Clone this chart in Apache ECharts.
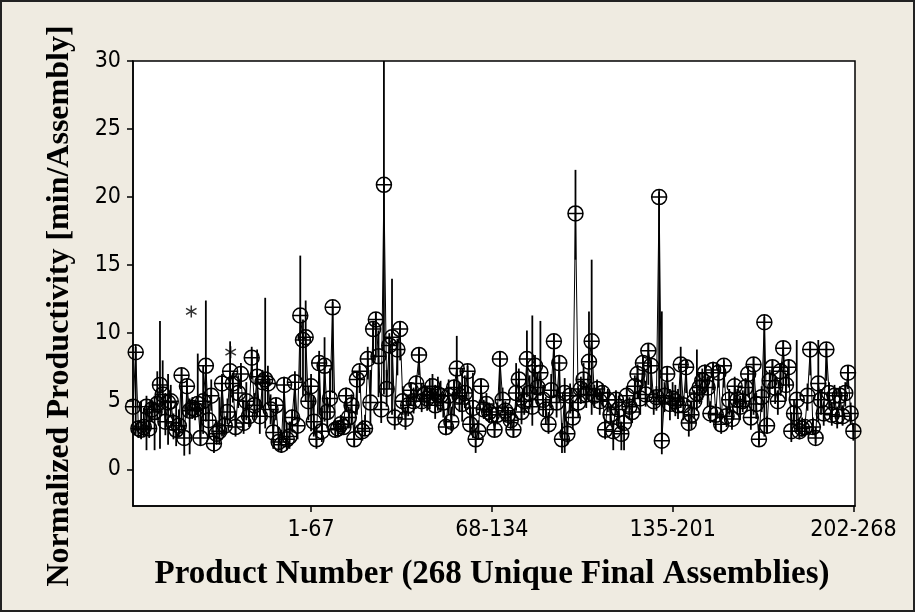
<!DOCTYPE html>
<html><head><meta charset="utf-8">
<script src="https://cdn.jsdelivr.net/npm/echarts@6/dist/echarts.min.js"></script>
<style>
html,body{margin:0;padding:0;background:#EFEBE1;}
#chart{position:absolute;left:0;top:0;width:915px;height:612px;}
#frame{position:absolute;left:0;top:0;width:915px;height:612px;box-sizing:border-box;border:2px solid #222;pointer-events:none;}
</style></head>
<body><div id="chart"></div><div id="frame"></div>
<script>
// Tick labels (groups of product numbers)
const tickPositions = [67, 134, 201, 268];
const tickLabels = ['1-67', '68-134', '135-201', '202-268'];
const yTicks = [0, 5, 10, 15, 20, 25, 30];

// Mean normalized productivity for products 1..268
const means = [
  4.6, 8.6, 3.0, 2.9, 3.1, 4.6, 3.0, 4.4, 4.2, 4.8,
  6.2, 5.5, 3.5, 4.9, 5.0, 3.4, 2.9, 3.2, 6.9, 2.3,
  6.1, 4.3, 4.5, 4.4, 4.8, 2.3, 5.0, 7.6, 3.6, 5.4,
  1.9, 2.6, 2.8, 6.3, 3.2, 4.2, 7.2, 6.3, 3.1, 5.6,
  7.0, 3.4, 5.0, 3.9, 8.2, 4.7, 6.8, 3.9, 6.4, 6.6,
  6.3, 4.4, 2.7, 4.7, 2.0, 1.8, 6.2, 2.2, 2.4, 3.8,
  6.4, 3.2, 11.3, 9.5, 9.7, 5.0, 6.1, 3.5, 2.2, 7.8,
  2.8, 7.6, 4.2, 5.2, 11.9, 2.9, 3.0, 3.3, 3.1, 5.4,
  3.8, 4.7, 2.2, 6.6, 7.2, 2.8, 3.0, 8.1, 4.9, 10.3,
  11.0, 8.3, 4.4, 20.9, 5.9, 9.1, 9.7, 3.8, 8.8, 10.3,
  5.0, 3.7, 4.7, 5.8, 5.0, 6.3, 8.4, 5.0, 5.5, 5.2,
  5.4, 6.1, 4.7, 5.5, 5.4, 4.9, 3.1, 5.4, 3.5, 6.0,
  7.4, 5.4, 4.8, 5.6, 7.2, 3.3, 4.5, 2.2, 2.8, 6.1,
  4.4, 4.8, 4.2, 4.0, 2.9, 4.0, 8.1, 5.1, 4.3, 4.0,
  3.6, 2.9, 5.6, 6.6, 4.2, 5.0, 8.1, 5.6, 4.6, 7.6,
  6.0, 7.1, 5.1, 4.4, 3.3, 5.8, 9.4, 4.9, 7.8, 2.2,
  5.6, 2.6, 5.4, 3.8, 18.8, 4.9, 5.9, 6.6, 5.5, 7.9,
  9.4, 5.4, 5.9, 5.0, 5.6, 2.9, 5.1, 4.0, 2.8, 5.1,
  4.4, 2.6, 3.4, 5.4, 4.6, 4.2, 6.1, 7.0, 5.2, 7.8,
  5.5, 8.7, 7.6, 5.0, 5.3, 20.0, 2.1, 5.4, 7.0, 4.8,
  5.2, 5.0, 4.7, 7.7, 4.7, 7.5, 3.4, 4.0, 5.0, 5.6,
  6.0, 6.5, 7.1, 6.0, 4.1, 7.3, 4.0, 7.1, 3.3, 7.6,
  3.9, 5.1, 3.7, 6.1, 5.1, 4.6, 5.0, 6.0, 7.0, 3.8,
  7.7, 4.8, 2.2, 5.3, 10.8, 3.2, 6.5, 7.5, 6.0, 5.0,
  7.2, 8.9, 6.2, 7.5, 2.8, 4.1, 5.1, 2.8, 3.0, 3.1,
  5.4, 8.8, 3.1, 2.3, 6.3, 5.1, 4.1, 8.8, 5.6, 4.0,
  5.4, 3.9, 5.4, 3.9, 5.6, 7.1, 4.1, 2.8
];

// Lower ends of the interval bars
const lows = [
  3.8, 2.6, 2.3, 2.2, 2.4, 1.4, 2.3, 3.5, 1.4, 3.6,
  1.5, 4.6, 2.5, 1.8, 3.9, 2.2, 1.7, 2.4, 2.9, 1.0,
  3.8, 1.1, 3.7, 3.6, 3.9, 1.8, 2.6, 3.5, 2.2, 4.3,
  1.2, 1.8, 1.8, 2.4, 2.5, 3.3, 3.4, 4.9, 2.4, 4.5,
  5.9, 2.6, 3.6, 3.1, 6.6, 3.6, 3.8, 2.6, 4.5, 3.0,
  4.7, 3.3, 1.5, 3.6, 1.3, 1.2, 2.2, 1.4, 1.5, 2.7,
  3.6, 2.2, 6.5, 5.4, 5.0, 3.6, 2.8, 2.4, 1.5, 4.0,
  2.0, 3.5, 3.0, 3.7, 5.6, 2.6, 2.4, 2.7, 2.6, 4.2,
  3.0, 3.3, 1.7, 4.0, 5.6, 2.1, 2.5, 6.6, 3.2, 7.8,
  8.2, 5.3, 3.4, 5.5, 4.6, 5.9, 4.0, 2.9, 6.9, 8.0,
  4.0, 2.9, 3.9, 4.7, 4.1, 4.9, 6.9, 4.2, 4.6, 4.3,
  4.4, 5.0, 3.7, 4.3, 4.2, 3.8, 2.5, 4.0, 2.8, 3.9,
  5.2, 4.2, 3.5, 4.5, 5.6, 2.6, 2.3, 1.2, 2.2, 4.9,
  3.7, 3.9, 3.4, 3.5, 2.4, 3.3, 5.0, 4.1, 3.5, 3.2,
  2.9, 2.4, 4.3, 4.9, 3.3, 4.0, 5.3, 4.4, 3.2, 5.5,
  4.6, 5.4, 3.9, 3.3, 2.6, 4.5, 5.3, 3.8, 4.9, 1.2,
  1.2, 1.8, 4.1, 2.9, 15.4, 3.8, 4.8, 5.4, 4.5, 5.0,
  4.0, 4.5, 5.1, 4.0, 4.6, 2.2, 4.2, 3.3, 1.4, 4.0,
  3.0, 1.4, 1.4, 4.4, 3.6, 3.4, 5.0, 5.2, 4.0, 6.1,
  4.6, 6.2, 5.6, 4.0, 4.3, 4.8, 1.1, 4.2, 5.6, 3.6,
  4.3, 3.9, 3.7, 4.5, 3.6, 5.6, 2.4, 2.9, 3.7, 4.3,
  4.8, 5.1, 5.6, 4.6, 3.4, 5.8, 2.9, 6.0, 2.6, 6.0,
  3.1, 4.0, 2.9, 4.8, 4.0, 3.6, 4.2, 4.5, 5.4, 2.9,
  4.0, 3.7, 1.8, 4.2, 2.4, 2.6, 5.3, 5.9, 4.8, 4.0,
  5.4, 6.1, 5.0, 6.0, 2.0, 3.2, 2.8, 2.2, 2.4, 2.5,
  4.3, 6.9, 2.6, 1.9, 3.5, 4.0, 3.2, 6.5, 4.4, 3.2,
  4.4, 3.0, 4.5, 3.2, 4.6, 5.9, 3.3, 2.1
];

// Upper ends of the interval bars
const highs = [
  5.3, 9.0, 3.6, 5.0, 4.5, 5.4, 4.9, 5.1, 5.4, 7.2,
  10.9, 8.0, 5.6, 7.0, 6.2, 4.1, 5.0, 4.4, 7.4, 3.2,
  6.7, 5.2, 5.3, 5.1, 8.5, 4.6, 7.6, 12.4, 4.8, 6.6,
  2.7, 3.6, 5.3, 7.0, 3.9, 5.2, 9.4, 7.1, 4.3, 6.9,
  7.8, 5.1, 6.4, 4.9, 9.0, 5.6, 8.8, 5.1, 7.3, 12.6,
  7.6, 5.5, 4.4, 5.2, 3.1, 2.9, 6.8, 3.4, 3.5, 4.4,
  7.2, 4.0, 15.7, 11.0, 12.4, 6.1, 7.0, 5.4, 3.1, 8.7,
  4.5, 9.7, 5.3, 7.4, 12.3, 3.6, 3.6, 4.0, 3.8, 6.0,
  4.6, 5.5, 3.3, 7.2, 7.6, 3.6, 4.0, 9.0, 7.3, 10.8,
  11.5, 10.2, 5.6, 30.0, 7.3, 10.0, 14.0, 4.5, 9.6, 10.8,
  6.1, 4.6, 5.5, 6.4, 6.0, 6.9, 8.9, 6.3, 6.2, 6.0,
  6.7, 7.0, 6.2, 6.8, 6.5, 5.7, 3.9, 6.6, 4.6, 6.6,
  9.8, 6.4, 7.4, 6.9, 7.6, 4.7, 7.1, 3.0, 3.6, 6.6,
  5.1, 5.6, 4.9, 4.6, 3.5, 4.9, 8.6, 6.0, 5.0, 4.6,
  4.3, 3.6, 7.8, 7.4, 5.5, 6.1, 10.2, 6.9, 11.3, 8.4,
  7.1, 10.9, 6.2, 5.3, 4.2, 7.0, 9.9, 5.8, 8.4, 3.4,
  6.7, 3.5, 6.3, 5.1, 22.0, 6.1, 6.8, 7.8, 6.3, 11.6,
  15.4, 6.2, 6.6, 5.9, 6.3, 3.6, 5.9, 4.8, 3.6, 5.8,
  5.4, 3.5, 4.3, 6.1, 5.3, 5.0, 6.9, 7.7, 6.2, 8.3,
  6.5, 9.2, 8.0, 5.8, 6.1, 20.4, 11.6, 6.4, 7.5, 5.9,
  6.4, 6.2, 5.9, 9.0, 5.4, 8.0, 4.2, 5.0, 5.8, 8.8,
  7.1, 7.4, 7.7, 6.8, 5.0, 7.9, 4.8, 7.6, 4.1, 8.0,
  4.6, 5.9, 4.3, 6.8, 5.9, 5.4, 5.8, 6.7, 7.6, 4.6,
  8.2, 5.6, 3.3, 6.1, 11.2, 3.9, 7.3, 8.0, 6.8, 5.8,
  7.8, 9.4, 7.0, 8.1, 4.2, 5.1, 9.5, 3.7, 3.8, 3.7,
  6.3, 9.3, 3.8, 3.1, 9.5, 5.9, 5.0, 9.2, 6.4, 4.9,
  6.2, 4.6, 6.1, 4.7, 6.4, 7.6, 4.9, 3.4
];

// Single-observation points shown as asterisks
const starProducts = [22.6, 37.2];
const starValues = [11.6, 8.6];

const meanData = means.map((v, i) => [i + 1, v]);
const intervalData = lows.map((lo, i) => [i + 1, lo, highs[i]]);
const starData = starProducts.map((p, i) => [p, starValues[i]]);

const chart = echarts.init(document.getElementById('chart'), null, {renderer: 'canvas'});
const tickFont = '"DejaVu Sans Condensed", "Liberation Sans Narrow", sans-serif';
const yTitleFont = 'bold 32px "Liberation Serif", "Times New Roman", serif';
const xTitleFont = 'bold 33px "Liberation Serif", "Times New Roman", serif';

chart.setOption({
  animation: false,
  backgroundColor: '#EFEBE1',
  grid: {left: 133, right: 60, top: 61, bottom: 106, show: true,
         backgroundColor: '#ffffff', borderColor: '#000', borderWidth: 1.5},
  xAxis: {
    type: 'value', min: 1, max: 268.6,
    axisLine: {show: true, onZero: false, lineStyle: {color: '#000', width: 1.5}},
    axisTick: {show: true, customValues: tickPositions, length: 6, lineStyle: {color: '#000', width: 1.5}},
    axisLabel: {customValues: tickPositions, color: '#000', fontSize: 23, fontFamily: tickFont, margin: 13,
      formatter: v => tickLabels[tickPositions.indexOf(v)] || ''},
    splitLine: {show: false}
  },
  yAxis: {
    type: 'value', min: -2.7, max: 30,
    axisLine: {show: true, onZero: false, lineStyle: {color: '#000', width: 1.5}},
    axisTick: {show: true, customValues: yTicks, length: 6, lineStyle: {color: '#000', width: 1.5}},
    axisLabel: {customValues: yTicks, color: '#000', fontSize: 23, fontFamily: tickFont, margin: 12},
    splitLine: {show: false}
  },
  graphic: [
    {type: 'text', x: 60, y: 306, rotation: Math.PI / 2,
     style: {text: 'Normalized Productivity [min/Assembly]', font: yTitleFont, fill: '#000',
             align: 'center', verticalAlign: 'middle'}},
    {type: 'text', x: 492, y: 574,
     style: {text: 'Product Number (268 Unique Final Assemblies)', font: xTitleFont, fill: '#000',
             align: 'center', verticalAlign: 'middle'}}
  ],
  series: [
    {
      type: 'custom',
      data: intervalData,
      clip: true,
      renderItem: function (params, api) {
        const p1 = api.coord([api.value(0), api.value(1)]);
        const p2 = api.coord([api.value(0), api.value(2)]);
        return {type: 'line', shape: {x1: p1[0], y1: p1[1], x2: p2[0], y2: p2[1]},
                style: {stroke: '#000', lineWidth: 1.8}};
      },
      z: 2
    },
    {
      type: 'line', data: meanData, showSymbol: false, symbol: 'none',
      lineStyle: {color: '#000', width: 1}, z: 3
    },
    {
      type: 'scatter', data: meanData, clip: false,
      symbol: 'path://M10,0A10,10,0,1,1,-10,0A10,10,0,1,1,10,0ZM-10,0L10,0M0,-10L0,10',
      symbolSize: 15, symbolKeepAspect: true,
      itemStyle: {color: 'rgba(0,0,0,0)', borderColor: '#000', borderWidth: 1.5, opacity: 1},
      z: 4
    },
    {
      type: 'scatter', data: starData,
      symbol: 'path://M0,-10L0,10M-8.7,-5L8.7,5M-8.7,5L8.7,-5',
      symbolSize: 12, symbolKeepAspect: true,
      itemStyle: {color: 'rgba(0,0,0,0)', borderColor: '#000', borderWidth: 1.5},
      z: 4
    }
  ]
});
</script>
</body></html>
